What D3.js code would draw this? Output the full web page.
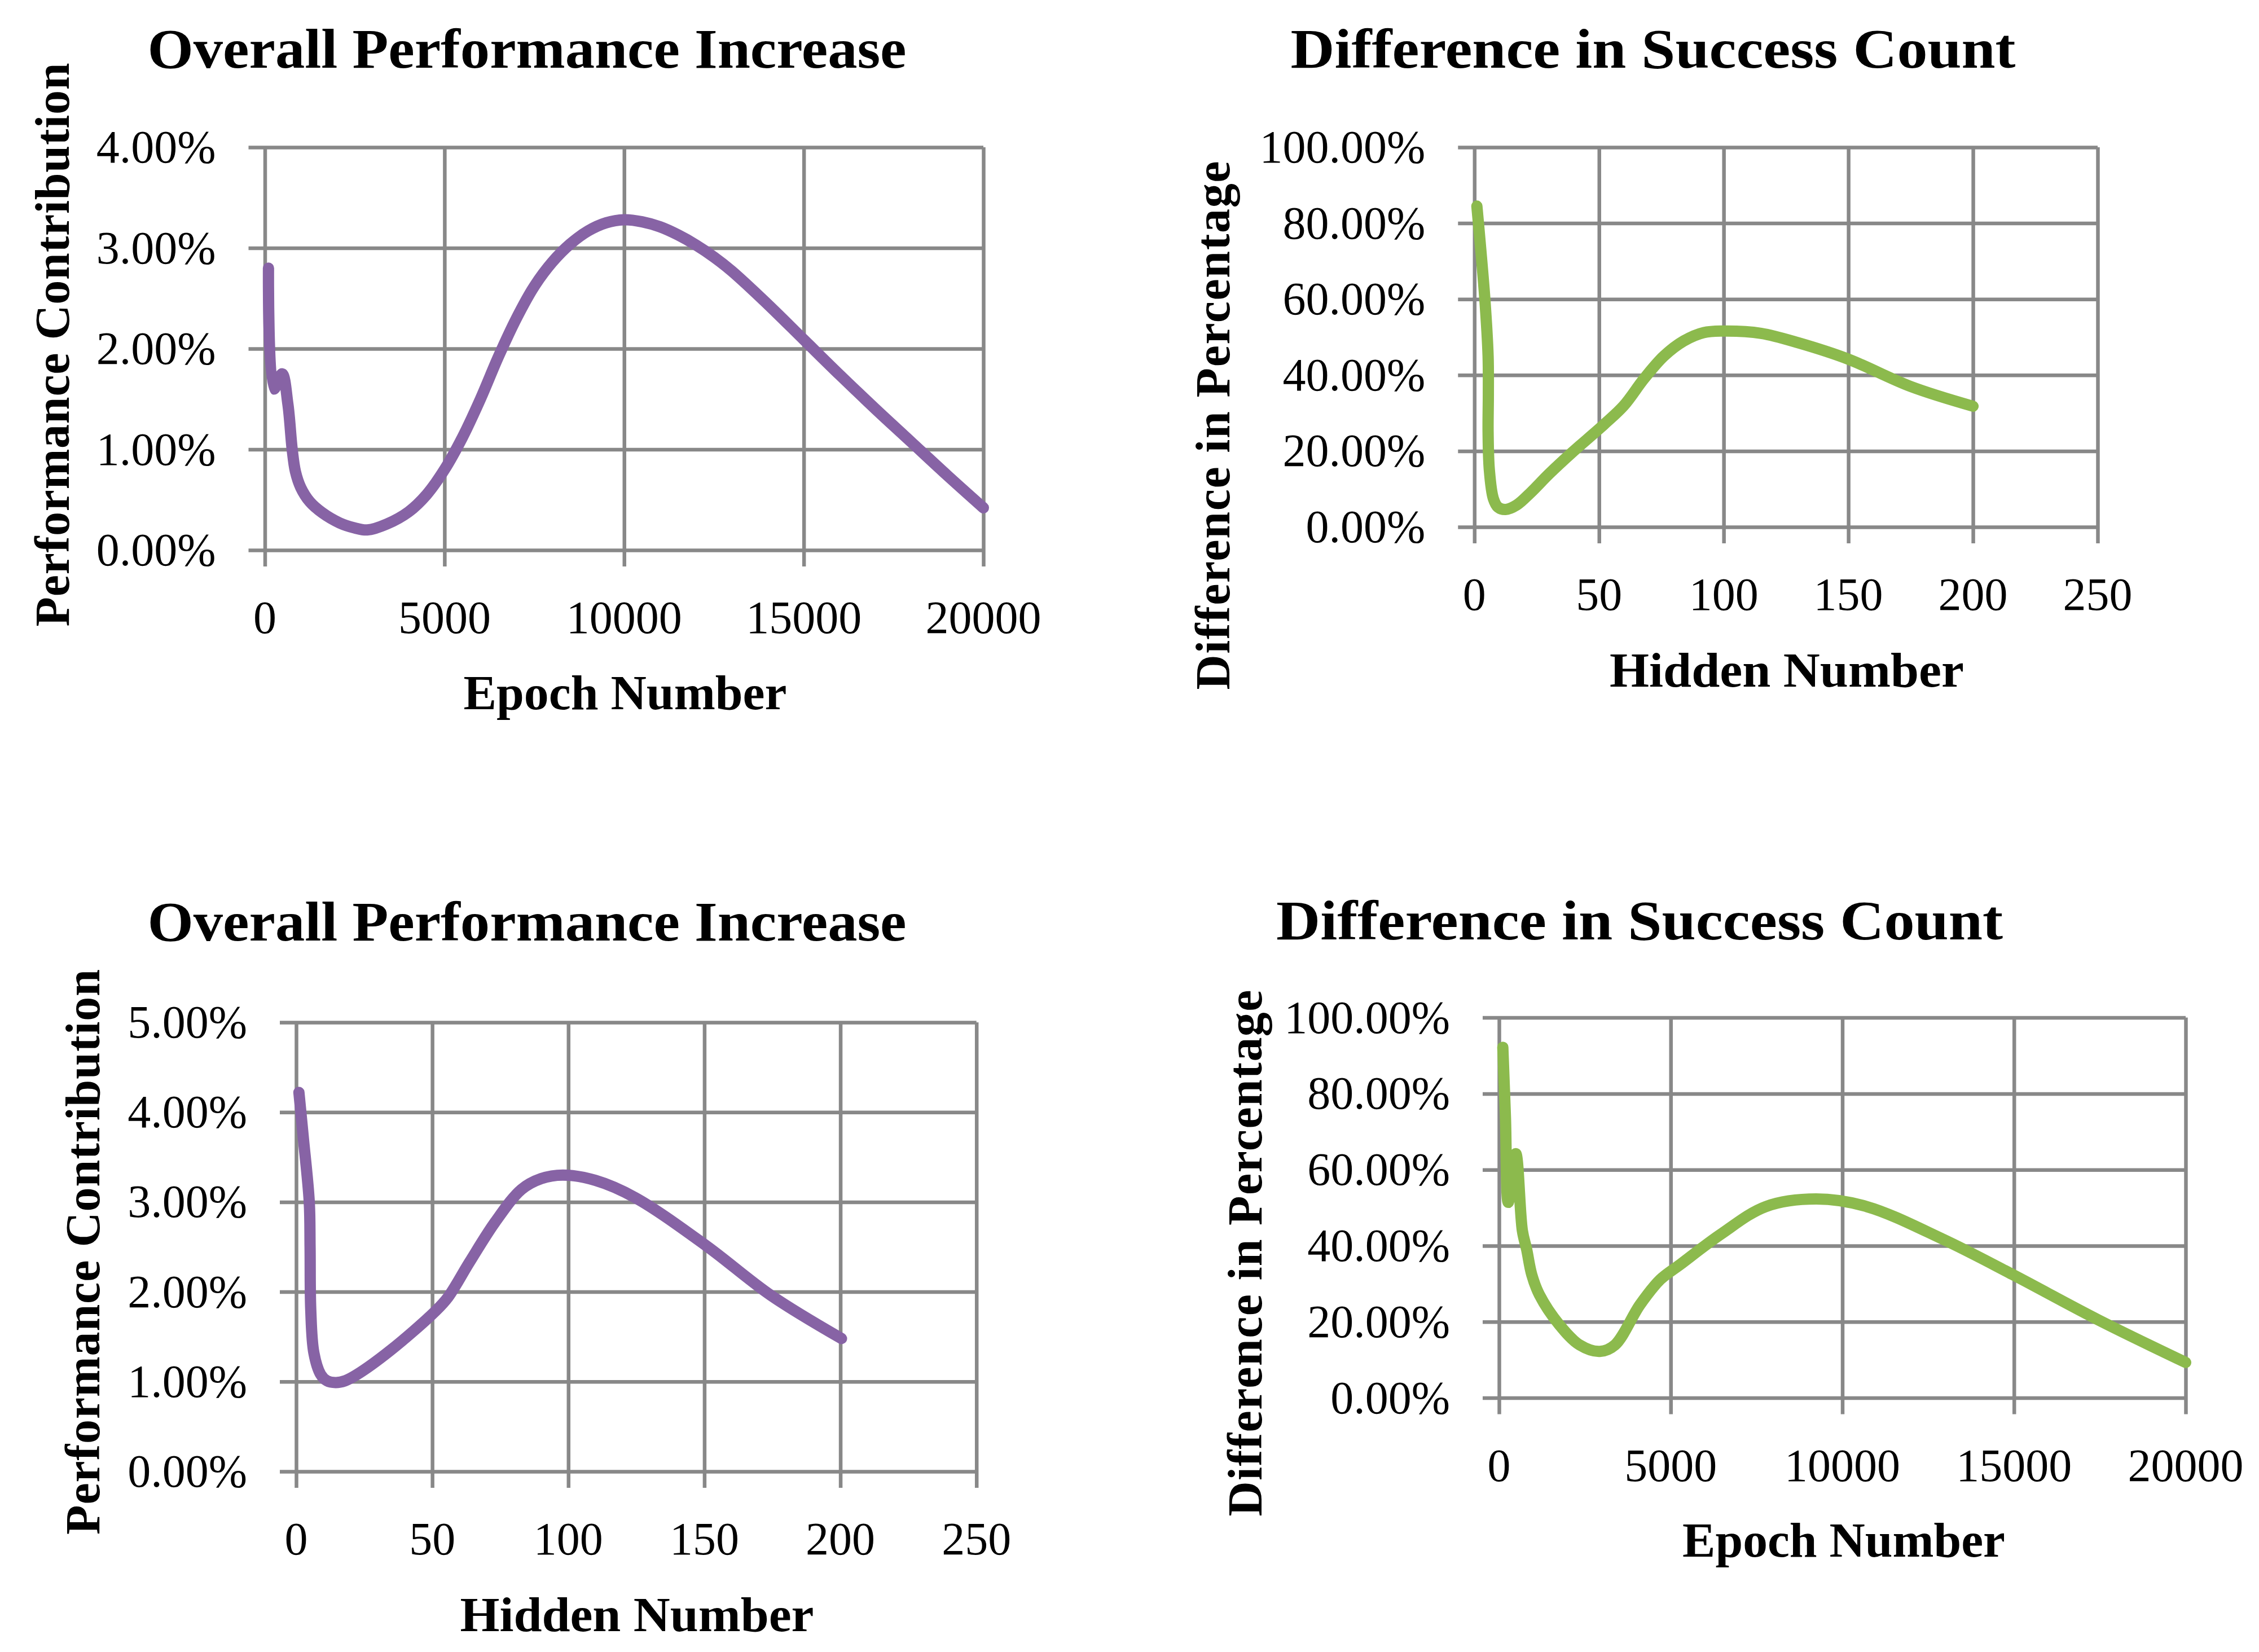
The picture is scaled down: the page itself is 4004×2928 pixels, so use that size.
<!DOCTYPE html>
<html>
<head>
<meta charset="utf-8">
<script src="https://cdn.jsdelivr.net/npm/d3@7"></script>
<style>
  body { margin: 0; background: #fff; }
  text { font-family: "Liberation Serif", "DejaVu Serif", serif; fill: #000; }
</style>
</head>
<body>
<svg id="svg-wrapper" width="4004" height="2928"></svg>
<script>
// canvas
const WIDTH = 4004;
const HEIGHT = 2928;

const GRID_COLOR = '#888888';
const PURPLE = '#8763A5';
const GREEN = '#8CBA4D';

// ---- data ----
// top left: performance vs epochs (values in %)
const epochPerfX = [100, 250, 480, 640, 760, 850, 1000, 1250, 1600, 2080, 2500, 2850, 3400, 4000, 4500, 5000, 5500, 6000, 6500, 7000, 7500, 8000, 8500, 9000, 9500, 10000, 10500, 11000, 11500, 12000, 12500, 13000, 14000, 15000, 16000, 17000, 18000, 19000, 20000];
const epochPerfY = [2.80, 1.60, 1.75, 1.45, 1.00, 0.78, 0.62, 0.48, 0.37, 0.27, 0.22, 0.20, 0.26, 0.38, 0.55, 0.80, 1.12, 1.50, 1.92, 2.30, 2.62, 2.86, 3.04, 3.17, 3.25, 3.28, 3.26, 3.21, 3.13, 3.03, 2.91, 2.77, 2.44, 2.09, 1.74, 1.40, 1.07, 0.74, 0.42];

// top right: success difference vs hidden number (values in %)
const hiddenSuccessX = [1, 2.3, 4.2, 5.5, 5.6, 5.5, 6, 7.6, 9.5, 12.5, 17, 22.5, 30, 39, 52, 60, 68, 76, 84, 92, 101, 115, 130, 150, 175, 200];
const hiddenSuccessY = [84.5, 75, 60, 45, 35, 25, 15, 7.5, 5.2, 4.6, 5.8, 9, 14, 19.5, 27, 32, 39, 45, 49, 51.2, 51.6, 51, 48.5, 44.2, 37, 31.8];

// bottom left: performance vs hidden number (values in %)
const hiddenPerfX = [1, 2.6, 4.8, 5.1, 5.35, 6.5, 9, 11.3, 14.5, 18, 22.4, 34.3, 51, 55.8, 63.7, 73.2, 82.8, 90, 98, 110, 124.5, 150.4, 174.5, 200.4];
const hiddenPerfY = [4.22, 3.72, 3.00, 2.50, 1.80, 1.32, 1.08, 1.01, 0.99, 1.01, 1.08, 1.34, 1.78, 1.94, 2.33, 2.78, 3.14, 3.26, 3.30, 3.24, 3.05, 2.52, 1.96, 1.48];

// bottom right: success difference vs epochs (values in %)
const epochSuccessX = [110, 186, 268, 487, 679, 805, 953, 1176, 1757, 2349, 2935, 3375, 4107, 4696, 5282, 6455, 7770, 9240, 10710, 12910, 14965, 17455, 20000];
const epochSuccessY = [92.2, 73.8, 51.4, 64.2, 44, 39, 32.4, 27.1, 19.2, 13.9, 12.2, 13.9, 24.5, 31.1, 35.1, 43.0, 50.3, 52.3, 50.3, 41.8, 32.4, 20.5, 9.3];

// ticks
const epochTicks = [0, 5000, 10000, 15000, 20000];
const hiddenTicks = [0, 50, 100, 150, 200, 250];
const perfTicks4 = [0, 1, 2, 3, 4];
const perfTicks5 = [0, 1, 2, 3, 4, 5];
const successTicks = [0, 20, 40, 60, 80, 100];

// texts
const chartTitles = ['Overall Performance Increase', 'Difference in Success Count', 'Overall Performance Increase', 'Difference in Success Count'];
const xTitles = ['Epoch Number', 'Hidden Number', 'Hidden Number', 'Epoch Number'];
const yTitles = ['Performance Contribution', 'Difference in Percentage', 'Performance Contribution', 'Difference in Percentage'];

// layout of each panel
const panels = [
    {
        box: { left: 469.5, right: 1743, top: 261, bottom: 975 },
        xs: epochPerfX, ys: epochPerfY, xDomain: [0, 20000], yDomain: [0, 4],
        xTicks: epochTicks, yTicks: perfTicks4, color: PURPLE,
        title: { x: 934, y: 120, len: 1345 },
        xTitle: { x: 1108, y: 1257, len: 573 },
        yTitle: { x: 122, y: 611, len: 999 }
    },
    {
        box: { left: 2613.3, right: 3718, top: 261, bottom: 934 },
        xs: hiddenSuccessX, ys: hiddenSuccessY, xDomain: [0, 250], yDomain: [0, 100],
        xTicks: hiddenTicks, yTicks: successTicks, color: GREEN,
        title: { x: 2930, y: 120, len: 1285 },
        xTitle: { x: 3167, y: 1217, len: 628 },
        yTitle: { x: 2179, y: 754, len: 937 }
    },
    {
        box: { left: 525, right: 1730.7, top: 1812, bottom: 2608 },
        xs: hiddenPerfX, ys: hiddenPerfY, xDomain: [0, 250], yDomain: [0, 5],
        xTicks: hiddenTicks, yTicks: perfTicks5, color: PURPLE,
        title: { x: 934, y: 1667, len: 1345 },
        xTitle: { x: 1129, y: 2891, len: 627 },
        yTitle: { x: 176, y: 2219, len: 1002 }
    },
    {
        box: { left: 2657, right: 3874, top: 1803.6, bottom: 2477.5 },
        xs: epochSuccessX, ys: epochSuccessY, xDomain: [0, 20000], yDomain: [0, 100],
        xTicks: epochTicks, yTicks: successTicks, color: GREEN,
        title: { x: 2906, y: 1665, len: 1288 },
        xTitle: { x: 3268, y: 2759, len: 572 },
        yTitle: { x: 2236, y: 2221, len: 933 }
    }
];

const svgWrapper = d3.select('#svg-wrapper');

svgWrapper.append('rect')
    .attr('width', WIDTH)
    .attr('height', HEIGHT)
    .attr('fill', '#fff');

const TICK_LEN = 29;
const pctFormat = d => d.toFixed(2) + '%';

panels.forEach((p, i) => {
    let b = p.box;
    let xScale = d3.scaleLinear().domain(p.xDomain).range([b.left, b.right]);
    let yScale = d3.scaleLinear().domain(p.yDomain).range([b.bottom, b.top]);

    let g = svgWrapper.append('g');

    // horizontal gridlines (with tick stubs on the left)
    let yAxis = d3.axisLeft(yScale)
        .tickValues(p.yTicks)
        .tickSizeInner(-(b.right - b.left))
        .tickSizeOuter(0)
        .tickFormat('');
    let gy = g.append('g')
        .attr('transform', `translate(${b.left},0)`)
        .call(yAxis);
    gy.select('.domain').remove();
    gy.selectAll('.tick line')
        .attr('x1', -TICK_LEN)
        .attr('stroke', GRID_COLOR)
        .attr('stroke-width', 6.5);

    // vertical gridlines (with tick stubs below)
    let xAxis = d3.axisBottom(xScale)
        .tickValues(p.xTicks)
        .tickSizeInner(-(b.bottom - b.top))
        .tickSizeOuter(0)
        .tickFormat('');
    let gx = g.append('g')
        .attr('transform', `translate(0,${b.bottom})`)
        .call(xAxis);
    gx.select('.domain').remove();
    gx.selectAll('.tick line')
        .attr('y1', TICK_LEN)
        .attr('stroke', GRID_COLOR)
        .attr('stroke-width', 6.5);

    // tick labels
    g.selectAll('.ylab')
        .data(p.yTicks)
        .enter()
        .append('text')
        .attr('class', 'ylab')
        .attr('x', b.left - 87)
        .attr('y', d => yScale(d) + 27)
        .attr('text-anchor', 'end')
        .attr('font-size', 82)
        .text(pctFormat);

    g.selectAll('.xlab')
        .data(p.xTicks)
        .enter()
        .append('text')
        .attr('class', 'xlab')
        .attr('x', d => xScale(d))
        .attr('y', b.bottom + 147)
        .attr('text-anchor', 'middle')
        .attr('font-size', 82)
        .text(d => d);

    // the series
    let pts = p.xs.map((x, k) => [x, p.ys[k]]);
    let line = d3.line()
        .x(d => xScale(d[0]))
        .y(d => yScale(d[1]))
        .curve(d3.curveCatmullRom.alpha(0.5));
    g.append('path')
        .datum(pts)
        .attr('d', line)
        .attr('fill', 'none')
        .attr('stroke', p.color)
        .attr('stroke-width', 20)
        .attr('stroke-linecap', 'round')
        .attr('stroke-linejoin', 'round');

    // titles
    g.append('text')
        .attr('x', p.title.x)
        .attr('y', p.title.y)
        .attr('text-anchor', 'middle')
        .attr('font-size', 100)
        .attr('font-weight', 'bold')
        .attr('textLength', p.title.len)
        .attr('lengthAdjust', 'spacingAndGlyphs')
        .text(chartTitles[i]);

    g.append('text')
        .attr('x', p.xTitle.x)
        .attr('y', p.xTitle.y)
        .attr('text-anchor', 'middle')
        .attr('font-size', 86)
        .attr('font-weight', 'bold')
        .attr('textLength', p.xTitle.len)
        .attr('lengthAdjust', 'spacingAndGlyphs')
        .text(xTitles[i]);

    g.append('text')
        .attr('transform', `translate(${p.yTitle.x},${p.yTitle.y}) rotate(-90)`)
        .attr('text-anchor', 'middle')
        .attr('font-size', 86)
        .attr('font-weight', 'bold')
        .attr('textLength', p.yTitle.len)
        .attr('lengthAdjust', 'spacing')
        .text(yTitles[i]);
});
</script>
</body>
</html>
